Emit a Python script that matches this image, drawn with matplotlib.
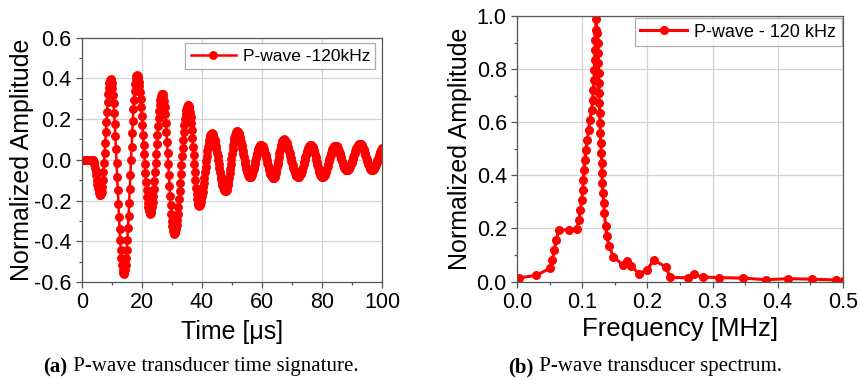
import numpy as np
import matplotlib
matplotlib.use("Agg")
import matplotlib.pyplot as plt
from matplotlib.ticker import MultipleLocator, FormatStrFormatter

plt.rcParams['font.family'] = ['Liberation Sans', 'DejaVu Sans']
plt.rcParams['axes.unicode_minus'] = False

# ---------------- data ----------------
sample_interval_us = 0.2
time_amplitude = [
    0.0, 0.0, 0.0, 0.0, 0.0, 0.0, 0.0, 0.0, 0.0, 0.0, 0.0, 0.0, 0.0, 0.0, 0.0, 0.0, 0.0, 0.0, 0.0,
    -0.003, -0.010, -0.022, -0.038, -0.056, -0.077, -0.098, -0.118, -0.137, -0.153, -0.165, -0.173, -0.175,
    -0.170, -0.156, -0.132, -0.101, -0.062, -0.017, 0.032, 0.084, 0.136, 0.188, 0.237, 0.282, 0.321, 0.352, 0.376, 0.390, 0.395,
    0.390, 0.376, 0.352, 0.319, 0.278, 0.230, 0.176, 0.116, 0.052, -0.015, -0.083, -0.150, -0.217, -0.281, -0.341, -0.395, -0.443, -0.484, -0.517, -0.541, -0.555, -0.560,
    -0.555, -0.540, -0.516, -0.483, -0.441, -0.392, -0.336, -0.275, -0.210, -0.142, -0.073, -0.003, 0.065, 0.130, 0.191, 0.247, 0.296, 0.338, 0.371, 0.395, 0.410, 0.415,
    0.412, 0.401, 0.384, 0.361, 0.332, 0.298, 0.259, 0.216, 0.171, 0.123, 0.075, 0.027, -0.021, -0.066, -0.109, -0.148, -0.182, -0.211, -0.234, -0.251, -0.262, -0.265,
    -0.261, -0.251, -0.233, -0.209, -0.179, -0.143, -0.104, -0.061, -0.016, 0.030, 0.076, 0.121, 0.164, 0.203, 0.239, 0.269, 0.293, 0.311, 0.321, 0.325,
    0.321, 0.308, 0.287, 0.259, 0.224, 0.183, 0.137, 0.087, 0.034, -0.020, -0.074, -0.127, -0.177, -0.223, -0.264, -0.299, -0.327, -0.348, -0.361, -0.365,
    -0.362, -0.353, -0.339, -0.319, -0.294, -0.264, -0.231, -0.194, -0.154, -0.112, -0.069, -0.026, 0.017, 0.059, 0.099, 0.136, 0.169, 0.199, 0.224, 0.244, 0.258, 0.267, 0.270,
    0.266, 0.255, 0.237, 0.212, 0.182, 0.146, 0.107, 0.065, 0.022, -0.020, -0.062, -0.101, -0.137, -0.167, -0.192, -0.210, -0.221, -0.225,
    -0.223, -0.217, -0.207, -0.194, -0.178, -0.158, -0.136, -0.112, -0.087, -0.061, -0.034, -0.008, 0.017, 0.041, 0.063, 0.083, 0.099, 0.112, 0.122, 0.128, 0.130,
    0.129, 0.125, 0.118, 0.109, 0.098, 0.085, 0.070, 0.053, 0.035, 0.017, -0.003, -0.022, -0.041, -0.060, -0.078, -0.095, -0.110, -0.123, -0.134, -0.143, -0.150, -0.154, -0.155,
    -0.153, -0.147, -0.137, -0.124, -0.107, -0.088, -0.067, -0.044, -0.020, 0.005, 0.029, 0.052, 0.073, 0.092, 0.109, 0.122, 0.132, 0.138, 0.140,
    0.139, 0.135, 0.130, 0.122, 0.113, 0.101, 0.088, 0.074, 0.059, 0.044, 0.028, 0.012, -0.004, -0.019, -0.033, -0.046, -0.058, -0.067, -0.075, -0.080, -0.084, -0.085,
    -0.084, -0.080, -0.074, -0.066, -0.057, -0.045, -0.033, -0.019, -0.006, 0.008, 0.022, 0.034, 0.046, 0.055, 0.063, 0.069, 0.073, 0.074,
    0.073, 0.070, 0.066, 0.060, 0.052, 0.043, 0.033, 0.022, 0.010, -0.002, -0.014, -0.026, -0.038, -0.049, -0.059, -0.068, -0.076, -0.082, -0.086, -0.089, -0.090,
    -0.088, -0.084, -0.076, -0.065, -0.052, -0.037, -0.021, -0.004, 0.014, 0.031, 0.047, 0.062, 0.075, 0.086, 0.094, 0.098, 0.100,
    0.099, 0.097, 0.093, 0.088, 0.081, 0.073, 0.064, 0.054, 0.043, 0.031, 0.020, 0.008, -0.005, -0.016, -0.028, -0.039, -0.049, -0.058, -0.066, -0.073, -0.078, -0.082, -0.084, -0.085,
    -0.084, -0.081, -0.077, -0.071, -0.064, -0.055, -0.045, -0.035, -0.023, -0.011, 0.000, 0.012, 0.024, 0.034, 0.044, 0.053, 0.060, 0.066, 0.070, 0.073, 0.074,
    0.073, 0.070, 0.064, 0.057, 0.048, 0.038, 0.026, 0.014, 0.001, -0.012, -0.025, -0.037, -0.049, -0.059, -0.068, -0.075, -0.081, -0.084, -0.085,
    -0.084, -0.082, -0.078, -0.073, -0.066, -0.058, -0.049, -0.040, -0.029, -0.019, -0.008, 0.004, 0.014, 0.025, 0.034, 0.043, 0.051, 0.058, 0.063, 0.067, 0.069, 0.070,
    0.069, 0.067, 0.063, 0.057, 0.050, 0.042, 0.034, 0.024, 0.014, 0.004, -0.006, -0.016, -0.024, -0.032, -0.039, -0.045, -0.049, -0.051, -0.052,
    -0.051, -0.049, -0.046, -0.042, -0.036, -0.029, -0.022, -0.014, -0.005, 0.004, 0.014, 0.023, 0.032, 0.041, 0.049, 0.056, 0.063, 0.069, 0.073, 0.076, 0.078, 0.079,
    0.078, 0.076, 0.072, 0.067, 0.060, 0.052, 0.044, 0.034, 0.025, 0.015, 0.004, -0.005, -0.015, -0.023, -0.031, -0.038, -0.043, -0.047, -0.049, -0.050,
    -0.049, -0.047, -0.044, -0.040, -0.034, -0.027, -0.020, -0.012, -0.003, 0.006, 0.014, 0.023, 0.032, 0.040, 0.047, 0.054, 0.060,
]

spectrum_freq_mhz = [
    0.002, 0.029, 0.050, 0.054, 0.057, 0.060, 0.064, 0.079, 0.091, 0.095, 0.097, 0.099,
    0.1005, 0.1015, 0.1025, 0.104, 0.1056, 0.1076, 0.1097, 0.1117, 0.1143, 0.1158, 0.1168,
    0.1179, 0.1184, 0.119, 0.1194, 0.1199, 0.1205, 0.121, 0.123, 0.1235, 0.124, 0.1245,
    0.125, 0.1253, 0.1256, 0.1261, 0.1266, 0.1271, 0.1276, 0.1281, 0.1292, 0.1297, 0.1302,
    0.1307, 0.1317, 0.1327, 0.1338, 0.1358, 0.1379, 0.141, 0.1475, 0.162, 0.168, 0.174,
    0.1875, 0.1988, 0.210, 0.2285, 0.2347, 0.2628, 0.2716, 0.2849, 0.3104, 0.3473, 0.3822,
    0.4165, 0.4524, 0.4898, 0.5,
]
spectrum_amplitude = [
    0.014, 0.023, 0.050, 0.083, 0.120, 0.158, 0.195, 0.195, 0.197, 0.233, 0.271, 0.308,
    0.346, 0.384, 0.421, 0.459, 0.497, 0.534, 0.572, 0.610, 0.647, 0.685, 0.723,
    0.760, 0.798, 0.836, 0.873, 0.911, 0.948, 0.990, 0.936, 0.898, 0.861, 0.823,
    0.786, 0.748, 0.710, 0.673, 0.635, 0.597, 0.560, 0.522, 0.484, 0.446, 0.409,
    0.371, 0.334, 0.296, 0.259, 0.208, 0.170, 0.133, 0.094, 0.063, 0.076, 0.060,
    0.029, 0.044, 0.080, 0.055, 0.016, 0.014, 0.027, 0.017, 0.015, 0.013, 0.007,
    0.011, 0.009, 0.006, 0.004,
]

time_label = "P-wave -120kHz"
spec_label = "P-wave - 120 kHz"
caption_a = ("(a)", " P-wave transducer time signature.")
caption_b = ("(b)", " P-wave transducer spectrum.")

time_us = np.arange(len(time_amplitude)) * sample_interval_us

# ---------------- figure ----------------
fig = plt.figure(figsize=(8.6, 3.8), dpi=100)
ax1 = fig.add_axes([0.095, 0.258, 0.3495, 0.643])
ax2 = fig.add_axes([0.6015, 0.259, 0.3784, 0.699])

red = '#ff0000'
for ax in (ax1, ax2):
    ax.grid(True, which='major', color='#d4d4d4', lw=0.9)
    ax.set_axisbelow(True)
    for s in ax.spines.values():
        s.set_color('#555555')
        s.set_linewidth(0.9)
    ax.tick_params(which='both', direction='out', top=False, right=False,
                   labelsize=15.5, color='#555555', pad=3)
    ax.tick_params(which='major', length=4.5, width=0.9)
    ax.tick_params(which='minor', length=2.5, width=0.9)

ax1.plot(time_us, time_amplitude, '-o', color=red, lw=1.8, ms=6.4,
         markeredgewidth=0, label=time_label)
ax1.set_xlim(0, 100)
ax1.set_ylim(-0.6, 0.6)
ax1.xaxis.set_major_locator(MultipleLocator(20))
ax1.xaxis.set_minor_locator(MultipleLocator(10))
ax1.yaxis.set_minor_locator(MultipleLocator(0.1))
ax1.set_yticks([-0.6, -0.4, -0.2, 0.0, 0.2, 0.4, 0.6])
ax1.set_yticklabels(['-0.6', '-0.4', '-0.2', '0.0', '0.2', '0.4', '0.6'])
ax1.set_xlabel('Time [\u03bcs]', fontsize=18, labelpad=5)
ax1.set_ylabel('Normalized Amplitude', fontsize=18, labelpad=0)
leg1 = ax1.legend(loc='upper right', fontsize=12.5, frameon=True, fancybox=False,
                  edgecolor='#999999', handlelength=2.6, handletextpad=0.4,
                  borderpad=0.3, borderaxespad=0, bbox_to_anchor=(0.977, 0.977))
leg1.get_frame().set_linewidth(0.9)

ax2.plot(spectrum_freq_mhz, spectrum_amplitude, '-o', color=red, lw=2.2, ms=6.5,
         markeredgewidth=0, label=spec_label)
ax2.set_xlim(0, 0.5)
ax2.set_ylim(0, 1.0)
ax2.xaxis.set_major_locator(MultipleLocator(0.1))
ax2.xaxis.set_minor_locator(MultipleLocator(0.05))
ax2.yaxis.set_major_locator(MultipleLocator(0.2))
ax2.yaxis.set_minor_locator(MultipleLocator(0.1))
ax2.xaxis.set_major_formatter(FormatStrFormatter('%.1f'))
ax2.yaxis.set_major_formatter(FormatStrFormatter('%.1f'))
ax2.set_xlabel('Frequency [MHz]', fontsize=18.5, labelpad=3)
ax2.set_ylabel('Normalized Amplitude', fontsize=18, labelpad=3)
leg2 = ax2.legend(loc='upper right', fontsize=13, frameon=True, fancybox=False,
                  edgecolor='#999999', handlelength=2.6, handletextpad=0.4,
                  borderpad=0.3, borderaxespad=0, bbox_to_anchor=(0.997, 0.991))
leg2.get_frame().set_linewidth(0.9)

# captions: bold "(x)" followed by regular text, centred as a whole
cap_y = 1 - 367.0 / 380
renderer = fig.canvas.get_renderer()
for (bold, rest), xc in ((caption_a, 201.0 / 860), (caption_b, 645.0 / 860)):
    tb = fig.text(0, cap_y, bold, fontsize=15, family='Liberation Serif',
                  weight='bold', ha='left', va='center')
    tr = fig.text(0, cap_y, rest, fontsize=15, family='Liberation Serif',
                  ha='left', va='center')
    wb = tb.get_window_extent(renderer).width / fig.bbox.width
    wr = tr.get_window_extent(renderer).width / fig.bbox.width
    x0 = xc - (wb + wr) / 2
    tb.set_x(x0)
    tr.set_x(x0 + wb)

fig.savefig('out.png', dpi=100)
